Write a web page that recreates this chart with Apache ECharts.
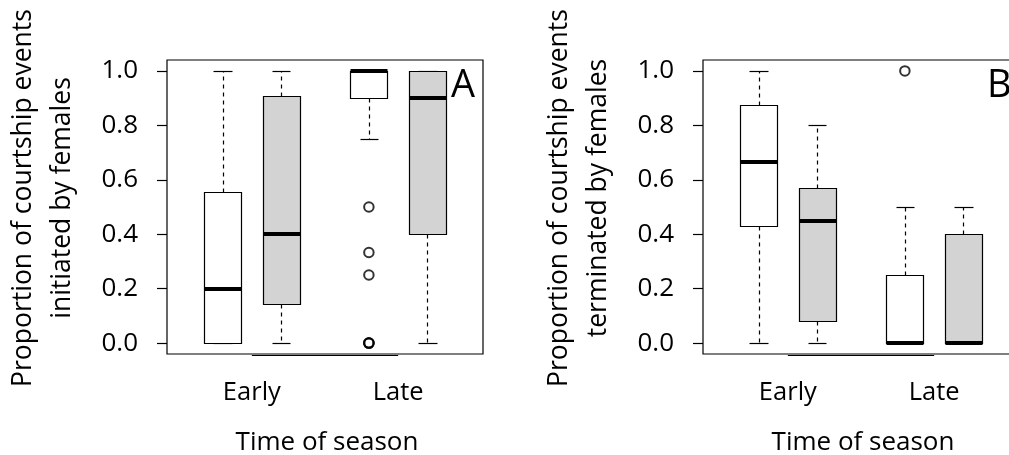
<!DOCTYPE html>
<html>
<head>
<meta charset="utf-8">
<script src="https://cdn.jsdelivr.net/npm/echarts@6/dist/echarts.min.js"></script>
<style>
html,body{margin:0;padding:0;background:#fff;overflow:hidden;}
#chart{width:1030px;height:455px;}
</style>
</head>
<body>
<div id="chart"></div>
<script>
// ---- data ----
const groupLabels = ['Early', 'Late'];
const yTicks = [0, 0.2, 0.4, 0.6, 0.8, 1.0];
const panelLetters = ['A', 'B'];
const yTitles = [
  'Proportion of courtship events\ninitiated by females',
  'Proportion of courtship events\nterminated by females'
];
const xTitle = 'Time of season';

// Panel A (boxes in order: Early-white, Early-grey, Late-white, Late-grey)
const aMin = [0, 0, 0.75, 0];
const aQ1 = [0, 0.143, 0.9, 0.4];
const aMed = [0.2, 0.4, 1.0, 0.9];
const aQ3 = [0.556, 0.909, 1.0, 1.0];
const aMax = [1, 1, 1, 1];
const aOutliers = [[], [], [0.5, 0.333, 0.25, 0, 0, 0], []];

// Panel B
const bMin = [0, 0, 0, 0];
const bQ1 = [0.429, 0.083, 0, 0];
const bMed = [0.667, 0.45, 0, 0];
const bQ3 = [0.875, 0.571, 0.25, 0.4];
const bMax = [1, 0.8, 0.5, 0.5];
const bOutliers = [[], [], [1.0], []];

// ---- layout / style ----
const FONT = 'Open Sans';
const fills = ['#ffffff', '#d3d3d3'];
const xMin = 0.05, xMax = 5.45, yMin = -0.04, yMax = 1.04;
const boxW = 0.63;
function boxPos(i) { const g = Math.floor(i / 2), m = i % 2; return 1 + g * 2.5 + m; }
function groupPos(g) { return 1.5 + g * 2.5; }

const panels = [
  {min: aMin, q1: aQ1, med: aMed, q3: aQ3, max: aMax, out: aOutliers},
  {min: bMin, q1: bQ1, med: bMed, q3: bQ3, max: bMax, out: bOutliers}
];
const gridLefts = [167, 703];

const crisp = v => Math.round(v) + 0.5;

function renderBox(params, api) {
  const x = api.value(0), lo = api.value(1), q1 = api.value(2), md = api.value(3),
        q3 = api.value(4), hi = api.value(5), fi = api.value(6);
  const half = api.size([boxW, 0])[0] / 2;
  const c = api.coord([x, 0]);
  const cx = crisp(c[0]);
  const yLo = crisp(api.coord([x, lo])[1]), yQ1 = crisp(api.coord([x, q1])[1]);
  const yMd = Math.round(api.coord([x, md])[1]), yQ3 = crisp(api.coord([x, q3])[1]);
  const yHi = crisp(api.coord([x, hi])[1]);
  const xl = crisp(c[0] - half), xr = crisp(c[0] + half);
  const sl = crisp(c[0] - half / 2), sr = crisp(c[0] + half / 2);
  const ls = {stroke: '#000', lineWidth: 1.2, fill: null};
  const dash = {stroke: '#000', lineWidth: 1.2, lineDash: [4, 4], fill: null};
  const ch = [];
  if (yLo !== yQ1) ch.push({type: 'line', shape: {x1: cx, y1: yQ1, x2: cx, y2: yLo}, style: dash});
  if (yHi !== yQ3) ch.push({type: 'line', shape: {x1: cx, y1: yQ3, x2: cx, y2: yHi}, style: dash});
  ch.push({type: 'line', shape: {x1: sl, y1: yLo, x2: sr, y2: yLo}, style: ls});
  ch.push({type: 'line', shape: {x1: sl, y1: yHi, x2: sr, y2: yHi}, style: ls});
  ch.push({type: 'rect', shape: {x: xl, y: yQ3, width: xr - xl, height: yQ1 - yQ3},
           style: {stroke: '#000', lineWidth: 1.2, fill: fills[fi]}});
  ch.push({type: 'line', shape: {x1: xl, y1: yMd, x2: xr, y2: yMd}, style: {stroke: '#000', lineWidth: 4}});
  return {type: 'group', children: ch};
}

function renderAxisSeg(params, api) {
  const p1 = api.coord([api.value(0), yMin]);
  const p2 = api.coord([api.value(1), yMin]);
  const y = Math.round(p1[1]) + 1.5;
  return {type: 'line', shape: {x1: p1[0], y1: y, x2: p2[0], y2: y}, style: {stroke: '#000', lineWidth: 1}};
}

const grid = [], xAxis = [], yAxis = [], series = [], graphic = [];
panels.forEach((p, k) => {
  grid.push({left: gridLefts[k], top: 60, width: 316, height: 294, show: true,
             borderColor: '#000', borderWidth: 1.2, backgroundColor: 'transparent'});
  xAxis.push({type: 'value', gridIndex: k, min: xMin, max: xMax,
    axisLine: {show: false}, axisTick: {show: false}, splitLine: {show: false},
    axisLabel: {customValues: groupLabels.map((_, g) => groupPos(g)),
      formatter: v => groupLabels[Math.round((v - 1.5) / 2.5)],
      fontFamily: FONT, fontSize: 25.5, color: '#000', margin: 26}});
  yAxis.push({type: 'value', gridIndex: k, min: yMin, max: yMax,
    axisLine: {show: false}, splitLine: {show: false},
    axisTick: {show: true, customValues: yTicks, length: 10, lineStyle: {color: '#000', width: 1.2}},
    axisLabel: {customValues: yTicks, formatter: v => v.toFixed(1),
      fontFamily: FONT, fontSize: 26, color: '#000', margin: 29}});
  const boxData = p.med.map((_, i) => [boxPos(i), p.min[i], p.q1[i], p.med[i], p.q3[i], p.max[i], i % 2]);
  series.push({type: 'custom', xAxisIndex: k, yAxisIndex: k, renderItem: renderBox, data: boxData,
               encode: {x: 0, y: [1, 2, 3, 4, 5]}, silent: true, animation: false, clip: false});
  const outData = [];
  p.out.forEach((arr, i) => arr.forEach(v => outData.push([boxPos(i), v])));
  series.push({type: 'scatter', xAxisIndex: k, yAxisIndex: k, data: outData, symbol: 'circle', symbolSize: 9.5,
               itemStyle: {color: 'rgba(0,0,0,0)', borderColor: '#000', borderWidth: 2}, silent: true, animation: false});
  series.push({type: 'custom', xAxisIndex: k, yAxisIndex: k, renderItem: renderAxisSeg,
               data: [[groupPos(0), groupPos(groupLabels.length - 1)]], silent: true, animation: false, clip: false});

  const L = gridLefts[k];
  graphic.push({type: 'text', x: L - 124.5, y: 198, rotation: Math.PI / 2,
    style: {text: yTitles[k], fontFamily: FONT, fontSize: 26.5, fill: '#000', lineHeight: 39,
            align: 'center', verticalAlign: 'middle', textAlign: 'center', textVerticalAlign: 'middle'}});
  graphic.push({type: 'text', x: L + 160, y: 443,
    style: {text: xTitle, fontFamily: FONT, fontSize: 26, fill: '#000',
            align: 'center', verticalAlign: 'middle', textAlign: 'center', textVerticalAlign: 'middle'}});
  graphic.push({type: 'text', x: L + 284, y: 86,
    style: {text: panelLetters[k], fontFamily: FONT, fontSize: 38, fill: '#000',
            align: 'left', verticalAlign: 'middle', textAlign: 'left', textVerticalAlign: 'middle'}});
});

const chart = echarts.init(document.getElementById('chart'), null, {renderer: 'canvas'});
chart.setOption({animation: false, backgroundColor: '#fff', grid, xAxis, yAxis, series, graphic});
</script>
</body>
</html>
